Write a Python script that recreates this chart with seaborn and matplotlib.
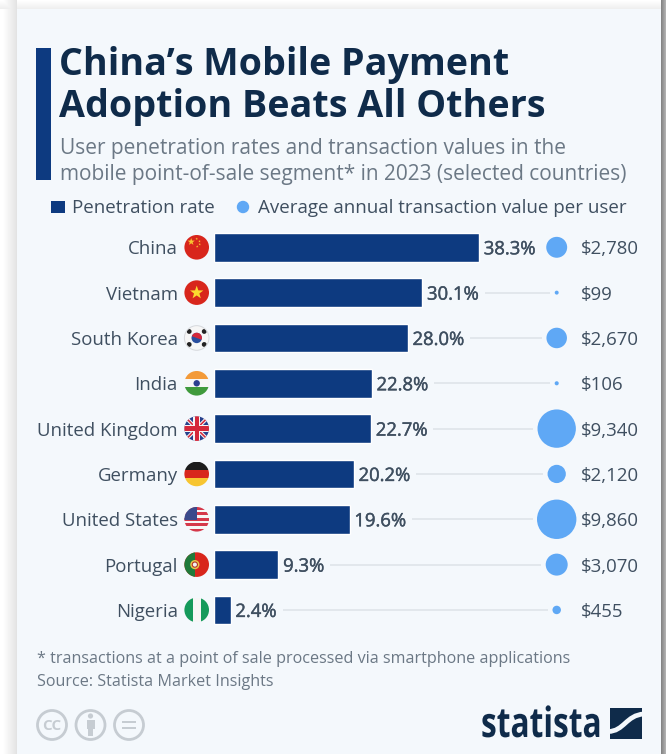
import numpy as np
import pandas as pd
import seaborn as sns
import matplotlib
matplotlib.use("Agg")
import matplotlib.pyplot as plt
import matplotlib.patheffects as pe
from matplotlib.patches import Circle, Rectangle, Polygon, PathPatch
from matplotlib.path import Path
from matplotlib.transforms import Affine2D

countries = ["China", "Vietnam", "South Korea", "India", "United Kingdom",
             "Germany", "United States", "Portugal", "Nigeria"]
penetration = [38.3, 30.1, 28.0, 22.8, 22.7, 20.2, 19.6, 9.3, 2.4]
avg_value = [2780, 99, 2670, 106, 9340, 2120, 9860, 3070, 455]
value_labels = ["$2,780", "$99", "$2,670", "$106", "$9,340", "$2,120", "$9,860", "$3,070", "$455"]
connector_flags = [False, True, True, True, True, True, True, True, True]

W, H = 666, 754
DPI = 100
NAVY = "#0d3a80"
BLUE = "#5fa8f5"
INK = "#0f2b4a"
GREY = "#3f4f60"
SUB = "#6b7885"
CARD = "#f4f8fc"
FONT = "Open Sans"

sns.set_theme(style="white", rc={"font.family": FONT})
fig = plt.figure(figsize=(W / DPI, H / DPI), dpi=DPI, facecolor="white")


def px_axes(x0, y0, x1, y1, **kw):
    """Axes placed by pixel box, measured from the top-left of the figure."""
    return fig.add_axes([x0 / W, 1 - y1 / H, (x1 - x0) / W, (y1 - y0) / H], **kw)


class Condense(pe.AbstractPathEffect):
    """Squeezes glyph outlines horizontally about a fixed display x."""

    def __init__(self, x0, factor):
        super().__init__()
        self.x0, self.factor = x0, factor

    def draw_path(self, renderer, gc, tpath, affine, rgbFace=None):
        squeeze = Affine2D().translate(-self.x0, 0).scale(self.factor, 1).translate(self.x0, 0)
        renderer.draw_path(gc, tpath, affine + squeeze, rgbFace)


# page layer: drop shadow, card and all furniture in pixel units
page = px_axes(0, 0, W, H, zorder=0)
page.set_xlim(0, W)
page.set_ylim(H, 0)
page.axis("off")

xx, yy = np.meshgrid(np.arange(W) + 0.5, np.arange(H) + 0.5)
dist_left = np.clip((17 - xx) / 14, 0, 1)
dist_top = np.clip((9 - yy) / 9, 0, 1)
dist_right = np.clip((xx - 661) / 12, 0, 1)
shade = np.maximum.reduce([(1 - dist_left) * 0.11 * (xx < 17),
                           (1 - dist_top) * 0.07 * (yy < 9),
                           (1 - dist_right) * 0.50 * (xx > 661)])
page.imshow(1 - shade, cmap="gray", vmin=0, vmax=1, extent=(0, W, H, 0),
            aspect="auto", interpolation="bilinear", zorder=0)
page.set_xlim(0, W)
page.set_ylim(H, 0)
page.add_patch(Rectangle((17, 9), 644, 745, fc=CARD, ec="none", zorder=1))

page.add_patch(Rectangle((36, 48), 15, 132, fc=NAVY, ec="none", zorder=2))
page.text(59, 75, "China\u2019s Mobile Payment", fontsize=27.05, fontweight="bold", color=INK, va="baseline", zorder=3)
page.text(59, 117, "Adoption Beats All Others", fontsize=27.05, fontweight="bold", color=INK, va="baseline", zorder=3)
page.text(60, 154, "User penetration rates and transaction values in the", fontsize=15.05, color=SUB, va="baseline", zorder=3)
page.text(60, 180, "mobile point-of-sale segment* in 2023 (selected countries)", fontsize=15.05, color=SUB, va="baseline", zorder=3)

page.add_patch(Rectangle((51, 201), 14, 12, fc=NAVY, ec="none", zorder=3))
page.text(72, 213, "Penetration rate", fontsize=13.5, color=GREY, va="baseline", zorder=3)
page.add_patch(Circle((243, 207), 6.2, fc=BLUE, ec="none", zorder=3))
page.text(258, 213, "Average annual transaction value per user", fontsize=13.5, color=GREY, va="baseline", zorder=3)

page.text(37, 663, "* transactions at a point of sale processed via smartphone applications", fontsize=11.58, color=SUB, va="baseline", zorder=3)
page.text(37, 686, "Source: Statista Market Insights", fontsize=11.58, color=SUB, va="baseline", zorder=3)

# licence badges
BADGE = "#c6ccd2"
for cx in (52, 90.5, 129):
    page.add_patch(Circle((cx, 725), 14.5, fc="none", ec=BADGE, lw=2.0, zorder=3))
page.text(52, 725.5, "CC", fontsize=11, fontweight="bold", color=BADGE, ha="center", va="center", zorder=3)
page.add_patch(Circle((90.5, 716), 2.6, fc=BADGE, ec="none", zorder=3))
page.add_patch(Rectangle((86.5, 719.5), 8, 9, fc=BADGE, ec="none", zorder=3))
page.add_patch(Rectangle((88, 728), 5, 8, fc=BADGE, ec="none", zorder=3))
page.add_patch(Rectangle((122, 720.5), 14, 2.8, fc=BADGE, ec="none", zorder=3))
page.add_patch(Rectangle((122, 726.5), 14, 2.8, fc=BADGE, ec="none", zorder=3))

# wordmark and logo
page.text(481, 737, "statista", fontsize=30, fontweight="bold", color=INK, va="baseline", zorder=3,
          path_effects=[Condense(481, 0.76)])
logo = Rectangle((610, 708), 32, 31, fc=INK, ec="none", zorder=3)
page.add_patch(logo)
swoosh = PathPatch(Path([(608, 731.5), (624, 731.5), (626, 715), (644, 714)],
                        [Path.MOVETO, Path.CURVE4, Path.CURVE4, Path.CURVE4]),
                   fc="none", ec=CARD, lw=3.4, zorder=4)
page.add_patch(swoosh)
swoosh.set_clip_path(logo)


# bars
frame = pd.DataFrame({"country": countries, "penetration": penetration, "value": avg_value})
ROW0, ROW_STEP = 247.3, 45.33
top = ROW0 - ROW_STEP / 2
bottom = top + ROW_STEP * len(countries)
BAR_X0, PX_PER_UNIT = 214.0, 6.92
AX_X1 = 661.0

ax = px_axes(BAR_X0, top, AX_X1, bottom, zorder=2)
ax.patch.set_alpha(0)
sns.barplot(data=frame, x="penetration", y="country", color=NAVY, width=28.5 / ROW_STEP,
            saturation=1, orient="h", ax=ax, zorder=2)
ax.set_xlim(0, (AX_X1 - BAR_X0) / PX_PER_UNIT)
ax.set_ylim(len(countries) - 0.5, -0.5)
ax.set_xlabel("")
ax.set_ylabel("")
ax.set_xticks([])
ax.tick_params(axis="y", length=0, pad=(BAR_X0 - 177.7) * 72 / DPI, labelsize=13.42, labelcolor=GREY)
sns.despine(ax=ax, left=True, bottom=True)

pct_texts = []
for i, v in enumerate(penetration):
    pct_texts.append(ax.annotate(f"{v:.1f}%", (v, i), xytext=(3.4, 0), textcoords="offset points",
                                 va="center_baseline", ha="left", fontsize=13.3, color=GREY, zorder=3,
                                 path_effects=[pe.withStroke(linewidth=0.3, foreground=GREY)]))

# bubbles: area proportional to the transaction value
BUBBLE_X = 556.7
bub = px_axes(BUBBLE_X - 50, top, BUBBLE_X + 50, bottom, zorder=3)
bub.patch.set_alpha(0)
R_MAX = 19.7
area = lambda v: (2 * R_MAX * np.sqrt(v / max(avg_value)) * 72 / DPI) ** 2
frame["col"] = 0
sns.scatterplot(data=frame, x="col", y=np.arange(len(countries)), size="value",
                sizes=(area(min(avg_value)), area(max(avg_value))),
                size_norm=(min(avg_value), max(avg_value)),
                color=BLUE, linewidth=0, alpha=1, legend=False, ax=bub, clip_on=False, zorder=3)
bub.set_xlim(-1, 1)
bub.set_ylim(len(countries) - 0.5, -0.5)
bub.axis("off")

for i, lab in enumerate(value_labels):
    page.text(581, ROW0 + i * ROW_STEP, lab, fontsize=13.4, color=GREY, va="center_baseline", ha="left", zorder=3)

# connectors between percentage label and bubble
fig.canvas.draw()
renderer = fig.canvas.get_renderer()
for i, t in enumerate(pct_texts):
    if not connector_flags[i]:
        continue
    x_start = t.get_window_extent(renderer).x1 + 6
    r = R_MAX * np.sqrt(avg_value[i] / max(avg_value))
    y = ROW0 + i * ROW_STEP
    page.plot([x_start, BUBBLE_X - r - 4.5], [y, y], color="#dde2e8", lw=1.1,
              solid_capstyle="butt", zorder=2)


# country flags, each clipped to a disc
FLAG_X, FLAG_R = 196.7, 12.3


def star(cx, cy, r, rot=0.0):
    ang = np.deg2rad(np.arange(10) * 36 - 90 + rot)
    rad = np.where(np.arange(10) % 2 == 0, r, r * 0.4)
    return np.c_[cx + rad * np.cos(ang), cy + rad * np.sin(ang)]


def flag(i, draw, edge=None):
    cy = ROW0 + i * ROW_STEP
    disc = Circle((FLAG_X, cy), FLAG_R, transform=page.transData, fc="none", ec="none")
    page.add_patch(disc)
    for artist in draw(FLAG_X, cy, FLAG_R):
        page.add_patch(artist)
        artist.set_zorder(5)
        artist.set_clip_path(disc)
    if edge:
        page.add_patch(Circle((FLAG_X, cy), FLAG_R, fc="none", ec=edge, lw=0.7, zorder=6))


def bands(cx, cy, r, colors):
    h = 2 * r / len(colors)
    return [Rectangle((cx - r, cy - r + k * h), 2 * r, h + 0.3, fc=c, ec="none") for k, c in enumerate(colors)]


def china(cx, cy, r):
    out = [Rectangle((cx - r, cy - r), 2 * r, 2 * r, fc="#d8261c", ec="none"),
           Polygon(star(cx - 5.5, cy - 5.5, 3.8), fc="#f7c531", ec="none")]
    for dx, dy in ((0, -8.5), (2.8, -6), (3, -3), (0.5, -0.8)):
        out.append(Polygon(star(cx + dx, cy + dy, 1.3), fc="#f7c531", ec="none"))
    return out


def vietnam(cx, cy, r):
    return [Rectangle((cx - r, cy - r), 2 * r, 2 * r, fc="#d8261c", ec="none"),
            Polygon(star(cx, cy, 7), fc="#fbd92f", ec="none")]


def korea(cx, cy, r):
    out = [Rectangle((cx - r, cy - r), 2 * r, 2 * r, fc="#f6f6f6", ec="none"),
           Circle((cx, cy), 5.2, fc="#2a4f9e", ec="none"),
           PathPatch(Path.wedge(200, 380).transformed(Affine2D().scale(5.2).translate(cx, cy)),
                     fc="#d5283a", ec="none")]
    for dx, dy in ((-7.5, -6.5), (7.5, -6.5), (-7.5, 6.5), (7.5, 6.5)):
        out.append(Circle((cx + dx, cy + dy), 2.4, fc="#222222", ec="none"))
    return out


def india(cx, cy, r):
    return bands(cx, cy, r, ["#f39a38", "#f6f6f6", "#3f9a3c"]) + [Circle((cx, cy), 3.2, fc="#2b3f8f", ec="none")]


def uk(cx, cy, r):
    out = [Rectangle((cx - r, cy - r), 2 * r, 2 * r, fc="#27408b", ec="none")]
    for sgn in (1, -1):
        d = r * 1.05
        w = 2.6
        out.append(Polygon([(cx - d, cy - sgn * d + w), (cx - d, cy - sgn * d - w),
                            (cx + d, cy + sgn * d - w), (cx + d, cy + sgn * d + w)], fc="#f6f6f6", ec="none"))
        w = 1.1
        out.append(Polygon([(cx - d, cy - sgn * d + w), (cx - d, cy - sgn * d - w),
                            (cx + d, cy + sgn * d - w), (cx + d, cy + sgn * d + w)], fc="#d5283a", ec="none"))
    out += [Rectangle((cx - r, cy - 3.8), 2 * r, 7.6, fc="#f6f6f6", ec="none"),
            Rectangle((cx - 3.8, cy - r), 7.6, 2 * r, fc="#f6f6f6", ec="none"),
            Rectangle((cx - r, cy - 2.2), 2 * r, 4.4, fc="#d5283a", ec="none"),
            Rectangle((cx - 2.2, cy - r), 4.4, 2 * r, fc="#d5283a", ec="none")]
    return out


def germany(cx, cy, r):
    return bands(cx, cy, r, ["#1c1c1c", "#d8261c", "#f7c531"])


def usa(cx, cy, r):
    out = bands(cx, cy, r, ["#d5384a", "#f6f6f6"] * 4 + ["#d5384a"])
    out.append(Rectangle((cx - r, cy - r), r * 1.05, r * 1.05, fc="#3a4a8c", ec="none"))
    return out


def portugal(cx, cy, r):
    return [Rectangle((cx - r, cy - r), 2 * r, 2 * r, fc="#d8261c", ec="none"),
            Rectangle((cx - r, cy - r), r * 0.85, 2 * r, fc="#1f7a3a", ec="none"),
            Circle((cx - r * 0.15, cy), 4.6, fc="#e9c84a", ec="none"),
            Circle((cx - r * 0.15, cy), 2.6, fc="#f2f2f2", ec="#b5342c", lw=0.8)]


def nigeria(cx, cy, r):
    return [Rectangle((cx - r, cy - r), 2 * r, 2 * r, fc="#f6f6f6", ec="none"),
            Rectangle((cx - r, cy - r), r * 0.68, 2 * r, fc="#159a5b", ec="none"),
            Rectangle((cx + r * 0.32, cy - r), r * 0.68, 2 * r, fc="#159a5b", ec="none")]


for i, (painter, edge) in enumerate([(china, None), (vietnam, None), (korea, "#d5d8dc"), (india, None),
                                     (uk, None), (germany, None), (usa, None), (portugal, None), (nigeria, None)]):
    flag(i, painter, edge)

fig.savefig("out.png", dpi=DPI, facecolor="white")
